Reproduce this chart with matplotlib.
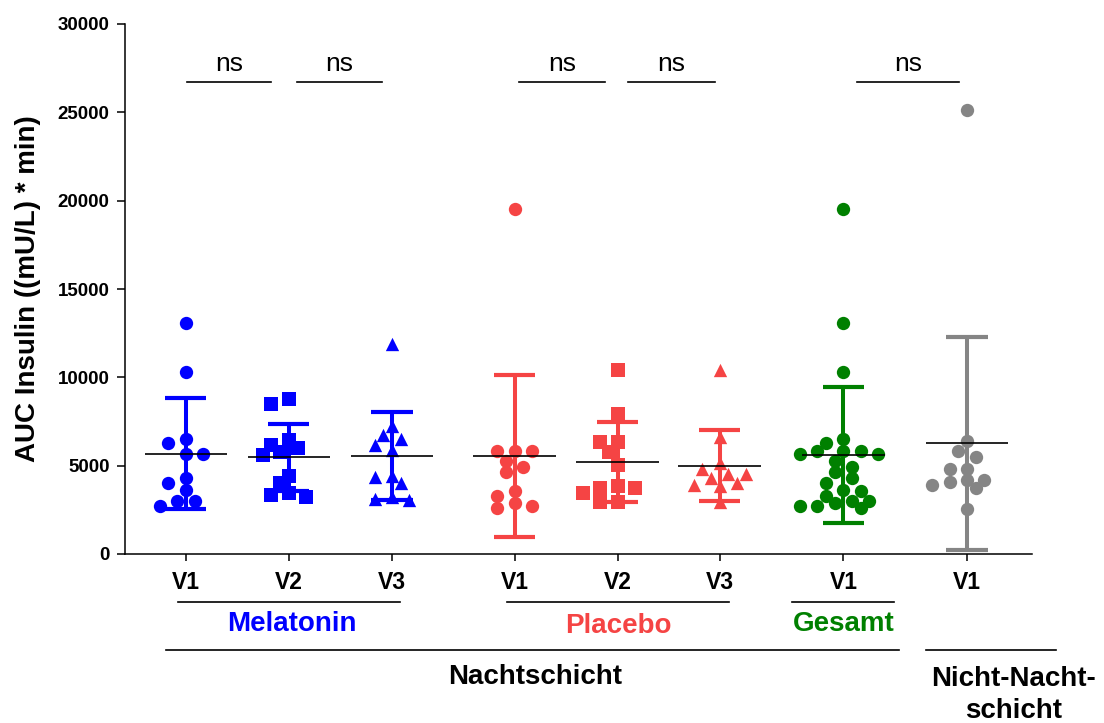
import numpy as np
import matplotlib.pyplot as plt
from matplotlib.transforms import blended_transform_factory

plt.rcParams['font.family'] = ['Liberation Sans', 'DejaVu Sans']

# AUC Insulin per subject, (mU/L) * min
mel_v1 = [13060, 10280, 6490, 6300, 5680, 5680, 4280, 4000, 3600, 2980, 2980, 2720]
mel_v2 = [8770, 8470, 6430, 6190, 5980, 5750, 5600, 4430, 4000, 3430, 3340, 3210]
mel_v3 = [11890, 7250, 6740, 6510, 6190, 5890, 4430, 4340, 4020, 3210, 3110, 3060]
pla_v1 = [19530, 5810, 5810, 5810, 5260, 4910, 4620, 3570, 3280, 2870, 2700, 2590]
pla_v2 = [10400, 7910, 6340, 6320, 5790, 5040, 3870, 3750, 3720, 3430, 2920, 2920]
pla_v3 = [10410, 6600, 5130, 4790, 4510, 4510, 4280, 4000, 3910, 3850, 2960]
nicht_v1 = [25150, 6410, 5850, 5470, 4830, 4790, 4170, 4170, 4060, 3920, 3740, 2570]
# Gesamt = Melatonin V1 + Placebo V1
gesamt_v1 = mel_v1 + pla_v1

groups = [mel_v1, mel_v2, mel_v3, pla_v1, pla_v2, pla_v3, gesamt_v1, nicht_v1]
tick_labels = ["V1", "V2", "V3", "V1", "V2", "V3", "V1", "V1"]

BLUE = "#0000FF"
RED = "#F54444"
GREEN = "#008000"
GREY = "#858585"

xpos = [0, 1, 2, 3.19, 4.19, 5.18, 6.38, 7.58]
markers = ["o", "s", "^", "o", "s", "^", "o", "o"]
colors = [BLUE] * 3 + [RED] * 3 + [GREEN, GREY]

# ns brackets (x from, x to)
ns_spans = [(0.01, 0.83), (1.08, 1.90), (3.23, 4.07), (4.29, 5.13), (6.51, 7.50)]

W, H = 1104, 723
XLIM = (-0.59, 8.21)
YMAX = 30000


def swarm_offsets(values, px_x, px_y, diam, step):
    """greedy beeswarm on a fixed horizontal grid, computed in pixels"""
    values = np.asarray(values, dtype=float)
    order = np.argsort(-values, kind="stable")
    cands = [0]
    for n in range(1, 30):
        cands += [-n, n]
    placed = []
    offs = np.zeros(len(values))
    for i in order:
        y = values[i] * px_y
        for c in cands:
            x = c * step
            if all((x - a) ** 2 + (y - b) ** 2 >= diam ** 2 for a, b in placed):
                break
        placed.append((x, y))
        offs[i] = x / px_x
    return offs


fig = plt.figure(figsize=(W / 100, H / 100), dpi=100)
left, right, top, bottom = 125 / W, 1032 / W, 24 / H, 554 / H
ax = fig.add_axes([left, 1 - bottom, right - left, bottom - top])
ax.set_xlim(*XLIM)
ax.set_ylim(0, YMAX)

px_x = (right - left) * W / (XLIM[1] - XLIM[0])
px_y = (bottom - top) * H / YMAX

for x, vals, m, c in zip(xpos, groups, markers, colors):
    vals = np.asarray(vals, dtype=float)
    offs = swarm_offsets(vals, px_x, px_y, 11.0, 8.7)
    ax.scatter(x + offs, vals, s=92, marker=m, color=c, linewidths=0, zorder=3)
    mean = vals.mean()
    sd = vals.std(ddof=1)
    ax.vlines(x, mean - sd, mean + sd, color=c, lw=2.9, zorder=4)
    ax.hlines([mean - sd, mean + sd], x - 0.2, x + 0.2, color=c, lw=3, zorder=4)
    ax.hlines(mean, x - 0.4, x + 0.4, color="black", lw=1.2, zorder=5)

for a, b in ns_spans:
    ax.plot([a, b], [26700, 26700], color="black", lw=1.2)
    ax.text((a + b) / 2, 27750, "ns", ha="center", va="center", fontsize=19)

ax.spines["top"].set_visible(False)
ax.spines["right"].set_visible(False)
ax.spines["left"].set_linewidth(1.1)
ax.spines["bottom"].set_linewidth(1.1)

ax.set_yticks(np.arange(0, 30001, 5000))
ax.tick_params(axis="y", length=6, width=1.1, labelsize=13.5, pad=5)
ax.set_xticks(xpos)
ax.set_xticklabels(tick_labels)
ax.tick_params(axis="x", length=5, width=1.1, labelsize=16.5, pad=7)
for lab in ax.get_xticklabels() + ax.get_yticklabels():
    lab.set_fontweight("bold")

ax.set_ylabel("AUC Insulin ((mU/L) * min)", fontsize=20, fontweight="bold", labelpad=12)

# group labels below the axis, y given in pixels from the top
tr = blended_transform_factory(ax.transData, fig.transFigure)


def fy(py):
    return 1 - py / H


def under_line(x0, x1, py):
    ax.plot([x0, x1], [fy(py), fy(py)], color="black", lw=1.2, transform=tr, clip_on=False)


under_line(-0.08, 2.08, 602)
under_line(3.12, 5.27, 602)
under_line(5.88, 6.87, 602)
under_line(-0.19, 6.92, 650)
under_line(7.18, 8.44, 650)

ax.text(1.03, fy(624), "Melatonin", color=BLUE, fontsize=20, fontweight="bold",
        ha="center", va="center", transform=tr)
ax.text(4.20, fy(626), "Placebo", color=RED, fontsize=20, fontweight="bold",
        ha="center", va="center", transform=tr)
ax.text(6.38, fy(624), "Gesamt", color=GREEN, fontsize=20, fontweight="bold",
        ha="center", va="center", transform=tr)
ax.text(3.39, fy(677), "Nachtschicht", fontsize=20, fontweight="bold",
        ha="center", va="center", transform=tr)
ax.text(8.03, fy(695), "Nicht-Nacht-\nschicht", fontsize=20, fontweight="bold",
        ha="center", va="center", linespacing=1.3, transform=tr)

fig.savefig("out.png", dpi=100)
